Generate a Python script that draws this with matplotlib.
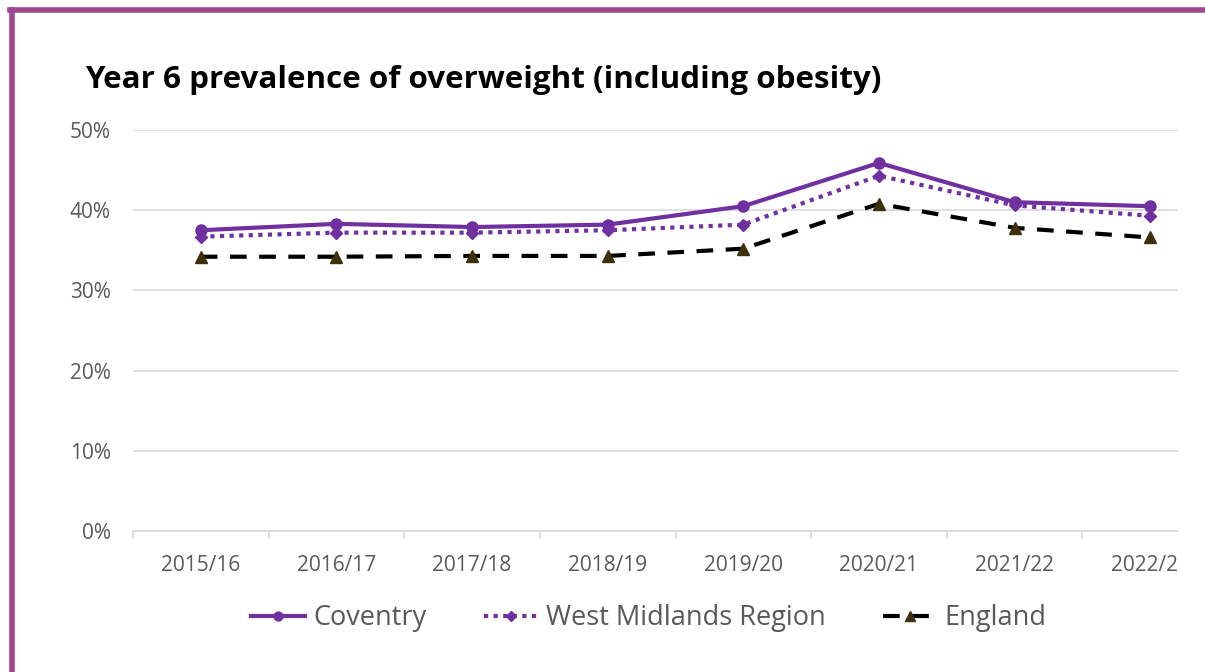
import matplotlib.pyplot as plt
from matplotlib.lines import Line2D
from matplotlib.patches import Rectangle
from matplotlib.ticker import FuncFormatter

# data
years = ["2015/16", "2016/17", "2017/18", "2018/19", "2019/20", "2020/21", "2021/22", "2022/23"]
coventry = [37.5, 38.3, 37.9, 38.2, 40.5, 45.9, 41.0, 40.5]
west_midlands = [36.7, 37.2, 37.2, 37.5, 38.2, 44.3, 40.6, 39.3]
england = [34.2, 34.2, 34.3, 34.3, 35.2, 40.8, 37.8, 36.6]

plt.rcParams['font.family'] = ['Open Sans', 'DejaVu Sans']
grey = '#595959'
purple = '#7030A0'

fig = plt.figure(figsize=(12.05, 6.72), dpi=100)
# the axes run off the right edge, as in the cropped original
ax = fig.add_axes([133/1205, 1-531/672, 1085/1205, 401/672])

x = range(len(years))
ax.plot(x, coventry, color=purple, lw=3, marker='o', ms=8, label='Coventry')
ax.plot(x, west_midlands, color=purple, lw=3, ls=(0, (1, 1.3)), marker='D', ms=6,
        label='West Midlands Region')
ax.plot(x, england, color='black', lw=3, ls=(0, (4, 3)), marker='^', ms=9,
        mfc='#3F300C', mec='#3F300C', label='England')

ax.set_ylim(0, 50)
ax.set_xlim(-0.5, len(years) - 0.5)
ax.set_yticks(range(0, 51, 10))
ax.yaxis.set_major_formatter(FuncFormatter(lambda v, p: f"{v:.0f}%"))
ax.set_xticks(list(x))
ax.set_xticklabels(years)
ax.set_xticks([i - 0.5 for i in range(len(years) + 1)], minor=True)
ax.tick_params(axis='x', which='major', length=0, pad=17, labelsize=15, labelcolor=grey)
ax.tick_params(axis='x', which='minor', length=6, color='#D9D9D9', width=1.2)
ax.tick_params(axis='y', length=0, pad=16, labelsize=15, labelcolor=grey)
ax.grid(axis='y', color='#D9D9D9', lw=1.2)
ax.set_axisbelow(True)
for s in ['top', 'right', 'left']:
    ax.spines[s].set_visible(False)
ax.spines['bottom'].set_color('#D9D9D9')
ax.spines['bottom'].set_linewidth(1.2)

fig.text(85/1205, 1-80/672, "Year 6 prevalence of overweight (including obesity)",
         fontsize=22.6, fontweight='bold', color='black', va='center')

handles, labels = ax.get_legend_handles_labels()
fig.legend(handles, labels, loc='center', bbox_to_anchor=(649/1205, 1-618/672), ncol=3,
           frameon=False, fontsize=19.5, labelcolor=grey, handlelength=2.0,
           columnspacing=2.1, handletextpad=0.3, markerscale=0.8)

# white mask to cut the chart off at the right as in the original
fig.patches.append(Rectangle((1178/1205, 0), 27/1205, 1-14/672, transform=fig.transFigure,
                             color='white', zorder=5))
# purple frame on top and left
border = '#A0468F'
fig.add_artist(Line2D([12/1205, 12/1205], [0, 1-10/672], transform=fig.transFigure,
                      color=border, lw=4, zorder=6))
fig.add_artist(Line2D([10/1205, 1], [1-10/672, 1-10/672], transform=fig.transFigure,
                      color=border, lw=4, zorder=6))

fig.savefig('out.png', dpi=100)
